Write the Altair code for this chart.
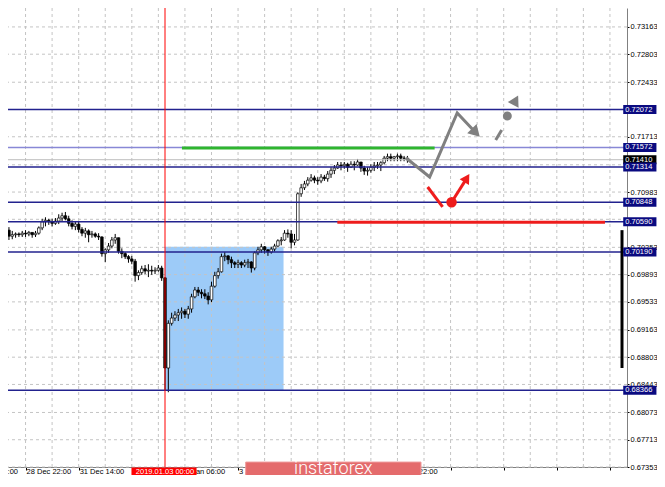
import altair as alt
import pandas as pd

# ---------------- candles (H1 bars; bar index 0 = first visible bar) ----------------
first_open = 0.7053
close = [0.7048,0.7040,0.7042,0.7043,0.7042,0.7044,0.7043,0.7045,0.7042,0.7044,
         0.7051,0.7059,0.7061,0.7059,0.7057,0.7060,0.7064,0.7067,0.7063,0.7057,
         0.7053,0.7056,0.7049,0.7044,0.7047,0.7042,0.7043,0.7040,0.7039,0.7017,
         0.7022,0.7027,0.7035,0.7038,0.7020,0.7017,0.7013,0.7010,0.7007,0.6988,
         0.6992,0.6997,0.6994,0.6995,0.6994,0.6995,0.6998,0.6985,0.6866,0.6925,
         0.6932,0.6936,0.6939,0.6941,0.6937,0.6944,0.6960,0.6969,0.6966,0.6964,
         0.6961,0.6956,0.6974,0.6988,0.6993,0.7013,0.7014,0.7009,0.7005,0.7003,
         0.7005,0.7002,0.7005,0.7006,0.6998,0.7018,0.7022,0.7026,0.7022,0.7019,
         0.7023,0.7027,0.7034,0.7035,0.7044,0.7043,0.7032,0.7035,0.7096,0.7104,
         0.7109,0.7114,0.7117,0.7114,0.7113,0.7118,0.7116,0.7122,0.7127,0.7130,
         0.7134,0.7133,0.7135,0.7131,0.7135,0.7134,0.7138,0.7130,0.7126,0.7127,
         0.7131,0.7133,0.7134,0.7137,0.7143,0.7145,0.7143,0.7145,0.7146,0.7143,
         0.7143,0.7141]
high = [0.7055,0.7052,0.7047,0.7045,0.7045,0.7047,0.7048,0.7047,0.7045,0.7047,
        0.7053,0.7063,0.7065,0.7063,0.7063,0.7064,0.7069,0.7071,0.7072,0.7067,
        0.7061,0.7060,0.7060,0.7052,0.7051,0.7049,0.7047,0.7045,0.7044,0.7040,
        0.7024,0.7031,0.7039,0.7043,0.7038,0.7024,0.7019,0.7015,0.7014,0.7010,
        0.6995,0.7001,0.7002,0.7003,0.7001,0.6999,0.7002,0.7001,0.6986,0.6929,
        0.6939,0.6941,0.6944,0.6946,0.6944,0.6948,0.6964,0.6973,0.6973,0.6970,
        0.6970,0.6966,0.6980,0.6993,0.6998,0.7017,0.7019,0.7015,0.7013,0.7007,
        0.7009,0.7007,0.7009,0.7010,0.7007,0.7020,0.7026,0.7030,0.7027,0.7023,
        0.7026,0.7030,0.7036,0.7039,0.7048,0.7049,0.7048,0.7043,0.7098,0.7109,
        0.7113,0.7118,0.7122,0.7120,0.7118,0.7122,0.7121,0.7126,0.7131,0.7134,
        0.7138,0.7138,0.7138,0.7137,0.7139,0.7139,0.7142,0.7138,0.7133,0.7131,
        0.7135,0.7138,0.7138,0.7139,0.7146,0.7149,0.7149,0.7146,0.7149,0.7149,
        0.7146,0.7146]
low = [0.7043,0.7035,0.7036,0.7038,0.7039,0.7039,0.7039,0.7040,0.7038,0.7039,
       0.7042,0.7048,0.7053,0.7055,0.7053,0.7055,0.7056,0.7060,0.7061,0.7053,
       0.7049,0.7048,0.7045,0.7040,0.7038,0.7032,0.7038,0.7038,0.7035,0.7013,
       0.7006,0.7018,0.7024,0.7030,0.7017,0.7011,0.7010,0.7005,0.7003,0.6980,
       0.6982,0.6989,0.6990,0.6986,0.6989,0.6990,0.6993,0.6981,0.6837,0.6834,
       0.6922,0.6928,0.6928,0.6931,0.6932,0.6931,0.6939,0.6958,0.6961,0.6958,
       0.6957,0.6950,0.6953,0.6972,0.6984,0.6992,0.7007,0.7003,0.6998,0.6998,
       0.6998,0.6998,0.6999,0.6998,0.6992,0.6995,0.7015,0.7018,0.7017,0.7014,
       0.7017,0.7020,0.7026,0.7028,0.7034,0.7038,0.7024,0.7028,0.7034,0.7092,
       0.7101,0.7106,0.7112,0.7110,0.7108,0.7110,0.7113,0.7112,0.7117,0.7122,
       0.7129,0.7127,0.7129,0.7125,0.7130,0.7127,0.7133,0.7125,0.7121,0.7120,
       0.7124,0.7126,0.7129,0.7126,0.7135,0.7139,0.7139,0.7139,0.7139,0.7139,
       0.7139,0.7137]

# ---------------- axes ----------------
x_domain = [2.222, 185.629]         # bar index range of the plot area
y_domain = [0.67353, 0.73413]
y_ticks = [0.73163, 0.72803, 0.72433, 0.72073, 0.71713, 0.71343, 0.70983, 0.70623,
           0.70253, 0.69893, 0.69533, 0.69163, 0.68803, 0.68443, 0.68073, 0.67713, 0.67353]
hidden_tick_labels = ["0.72073", "0.71343", "0.70623"]
tick_bars = [6, 22, 38, 54, 70, 86, 102, 118, 134, 150, 166, 182]
label_bars = [-10, 6, 22, 54, 70, 118]
label_text = ["28 Dec 06:00", "28 Dec 22:00", "31 Dec 14:00", "3 Jan 06:00",
              "3 Jan 22:00", "7 Jan 22:00"]
grid_bars = [6, 14, 22, 30, 38, 46, 54, 62, 70, 78, 86, 94, 102, 110, 118, 126, 134,
             142, 150, 158, 166, 174, 182]
x_label_price = 0.67286

# ---------------- drawn objects ----------------
level_price = [0.72072, 0.71572, 0.71314, 0.70848, 0.70590, 0.70190, 0.68366]
level_color = ["#22228e", "#8888d6", "#22228e", "#22228e", "#22228e", "#22228e", "#22228e"]
current_price = 0.71410
marker_bar = 48
marker_text = "2019.01.03 00:00"
rect_bars = [48, 83.7]
rect_prices = [0.70260, 0.68366]
green_bars = [53.1, 129.2]
green_price = 0.71565
red_bars = [99.9, 180.5]
red_price = 0.70585
grey_path_bars = [120.6, 127.7, 136.0, 141.6]
grey_path_prices = [0.71433, 0.71182, 0.72027, 0.71767]
grey_dash_bars = [147.6, 149.4]
grey_dash_prices = [0.71670, 0.71802]
grey_dot = (151.1, 0.71987)
red_line_bars = [127.1, 131.6]
red_line_prices = [0.71050, 0.70786]
red_dot = (134.3, 0.70848)
red_shaft_end = (138.9, 0.71167)
head_bars = [141.6, 153.6, 138.9]
head_prices = [0.71767, 0.72195, 0.71167]
head_angles = [136, 28, 32]
head_colors = ["#808080", "#808080", "#ee1c1c"]
head_sizes = [170, 150, 120]
thick_axis_prices = [0.6866, 0.7048]
label_box_bars = [186.0, 196.0]
label_text_bar = 186.6
marker_box_bars = [37.9, 57.5]
logo_bars = [72.3, 125.1]
logo_prices = [0.67418, 0.66983]
logo_center = (98.7, 0.67260)

# ---------------- scales / helpers ----------------
xs = alt.Scale(domain=x_domain, nice=False, zero=False)
ys = alt.Scale(domain=y_domain, nice=False, zero=False)
xax = alt.Axis(values=tick_bars, labels=False, tickSize=3, tickColor="#000000",
               domainColor="#808080", grid=False, title=None)
yexpr = "indexof(" + str(hidden_tick_labels) + ", datum.label) >= 0 ? '' : datum.label"
yax = alt.Axis(orient="right", values=y_ticks, format=".5f", labelExpr=yexpr, tickSize=2,
               tickColor="#000000", domainColor="#808080", labelFont="Liberation Sans",
               labelFontSize=7.5, labelColor="#000000", labelPadding=1, grid=False, title=None,
               labelFlush=False, labelOverlap=False, labelBaseline="middle")


def X(f):
    return alt.X(f"{f}:Q", scale=xs, axis=xax)


def Y(f):
    return alt.Y(f"{f}:Q", scale=ys, axis=yax)


FONT = "Liberation Sans"

candles = pd.DataFrame({
    "k": list(range(len(close))),
    "open": [first_open] + close[:-1],
    "close": close, "high": high, "low": low,
})

layers = []

# blue rectangle
layers.append(alt.Chart(pd.DataFrame({"k1": [rect_bars[0]], "k2": [rect_bars[1]],
                                      "p1": [rect_prices[0]], "p2": [rect_prices[1]]}))
              .mark_rect(color="#9dcbf8", clip=True)
              .encode(x=X("k1"), x2="k2", y=Y("p1"), y2="p2"))
# grid
layers.append(alt.Chart(pd.DataFrame({"k": grid_bars}))
              .mark_rule(color="#c4c4c4", strokeDash=[3, 3], strokeWidth=1)
              .encode(x=X("k")))
layers.append(alt.Chart(pd.DataFrame({"p": y_ticks}))
              .mark_rule(color="#c4c4c4", strokeDash=[3, 3], strokeWidth=1)
              .encode(y=Y("p")))
# candles
layers.append(alt.Chart(candles).mark_rule(color="#000000", strokeWidth=1, clip=True)
              .encode(x=X("k"), y=Y("low"), y2="high"))
layers.append(alt.Chart(candles).mark_bar(size=2.6, stroke="#000000", strokeWidth=0.7, clip=True)
              .encode(x=X("k"), y=Y("open"), y2="close",
                      fill=alt.condition("datum.close >= datum.open", alt.value("#ffffff"),
                                         alt.value("#000000"))))
# current price line and levels
layers.append(alt.Chart(pd.DataFrame({"p": [current_price]}))
              .mark_rule(color="#bdbdbd", strokeWidth=1).encode(y=Y("p")))
layers.append(alt.Chart(pd.DataFrame({"p": level_price, "c": level_color}))
              .mark_rule(strokeWidth=1.5)
              .encode(y=Y("p"), color=alt.Color("c:N", scale=None)))
# green and red segments
layers.append(alt.Chart(pd.DataFrame({"k1": [green_bars[0], red_bars[0]],
                                      "k2": [green_bars[1], red_bars[1]],
                                      "p": [green_price, red_price],
                                      "c": ["#2fb52f", "#ee1c1c"]}))
              .mark_rule(strokeWidth=3, strokeCap="butt")
              .encode(x=X("k1"), x2="k2", y=Y("p"), color=alt.Color("c:N", scale=None)))
# vertical marker line
layers.append(alt.Chart(pd.DataFrame({"k": [marker_bar]}))
              .mark_rule(stroke="#ff0000", color="#ff0000", strokeWidth=1, opacity=1)
              .encode(x=X("k")))
# grey forecast path
layers.append(alt.Chart(pd.DataFrame({"k": grey_path_bars, "p": grey_path_prices,
                                      "i": list(range(len(grey_path_bars)))}))
              .mark_line(color="#808080", strokeWidth=3)
              .encode(x=X("k"), y=Y("p"), order="i:O"))
# short segments (grey dash, red stroke, red shaft)
seg = pd.DataFrame({
    "k1": [grey_dash_bars[0], red_line_bars[0], red_dot[0]],
    "k2": [grey_dash_bars[1], red_line_bars[1], red_shaft_end[0]],
    "p1": [grey_dash_prices[0], red_line_prices[0], red_dot[1]],
    "p2": [grey_dash_prices[1], red_line_prices[1], red_shaft_end[1]],
    "c": ["#808080", "#ee1c1c", "#ee1c1c"],
})
layers.append(alt.Chart(seg).mark_rule(strokeWidth=3)
              .encode(x=X("k1"), x2="k2", y=Y("p1"), y2="p2",
                      color=alt.Color("c:N", scale=None)))
# dots
layers.append(alt.Chart(pd.DataFrame({"k": [grey_dot[0], red_dot[0]],
                                      "p": [grey_dot[1], red_dot[1]],
                                      "c": ["#808080", "#ee1c1c"],
                                      "s": [80, 110]}))
              .mark_point(shape="circle", filled=True, opacity=1)
              .encode(x=X("k"), y=Y("p"), color=alt.Color("c:N", scale=None),
                      size=alt.Size("s:Q", scale=None)))
# arrow heads
layers.append(alt.Chart(pd.DataFrame({"k": head_bars, "p": head_prices, "s": head_sizes,
                                      "a": head_angles, "c": head_colors}))
              .mark_point(shape="triangle-up", filled=True, opacity=1)
              .encode(x=X("k"), y=Y("p"), angle=alt.Angle("a:Q", scale=None),
                      size=alt.Size("s:Q", scale=None),
                      color=alt.Color("c:N", scale=None)))
# thick part of price axis
layers.append(alt.Chart(pd.DataFrame({"k": [x_domain[1]], "p1": [thick_axis_prices[0]],
                                      "p2": [thick_axis_prices[1]]}))
              .mark_rule(color="#000000", strokeWidth=3, strokeCap="butt")
              .encode(x=X("k"), y=Y("p1"), y2="p2"))
# price-label boxes on the right axis
box_price = [current_price] + level_price
box_color = ["#000000"] + ["#0a0a80"] * len(level_price)
boxes = pd.DataFrame({"k1": [label_box_bars[0]] * len(box_price),
                      "k2": [label_box_bars[1]] * len(box_price),
                      "kt": [label_text_bar] * len(box_price),
                      "p": box_price, "c": box_color,
                      "t": [f"{v:.5f}" for v in box_price]})
for i in range(len(boxes)):
    row = boxes.iloc[[i]]
    layers.append(alt.Chart(row).mark_rule(strokeWidth=9, strokeCap="butt")
                  .encode(x=X("k1"), x2="k2", y=Y("p"), color=alt.Color("c:N", scale=None)))
    layers.append(alt.Chart(row).mark_text(align="left", baseline="middle", color="#ffffff",
                                           font=FONT, fontSize=7.5)
                  .encode(x=X("kt"), y=Y("p"), text="t:N"))
# time labels
layers.append(alt.Chart(pd.DataFrame({"k": label_bars, "t": label_text,
                                      "p": [x_label_price] * len(label_bars)}))
              .mark_text(align="left", baseline="middle", dx=1, color="#000000",
                         font=FONT, fontSize=7.5)
              .encode(x=X("k"), y=Y("p"), text="t:N"))
# red date box on the time axis
layers.append(alt.Chart(pd.DataFrame({"k1": [marker_box_bars[0]], "k2": [marker_box_bars[1]],
                                      "p": [x_label_price]}))
              .mark_rule(color="#ff0000", strokeWidth=9, strokeCap="butt")
              .encode(x=X("k1"), x2="k2", y=Y("p")))
layers.append(alt.Chart(pd.DataFrame({"k": [marker_bar], "p": [x_label_price], "t": [marker_text]}))
              .mark_text(align="center", baseline="middle", color="#ffffff", font=FONT, fontSize=7.5)
              .encode(x=X("k"), y=Y("p"), text="t:N"))
# logo
layers.append(alt.Chart(pd.DataFrame({"k1": [logo_bars[0]], "k2": [logo_bars[1]],
                                      "p1": [logo_prices[0]], "p2": [logo_prices[1]]}))
              .mark_rect(color="#e46b6c", stroke="#ee9a9a", strokeWidth=1)
              .encode(x=X("k1"), x2="k2", y=Y("p1"), y2="p2"))
layers.append(alt.Chart(pd.DataFrame({"k": [logo_center[0]], "p": [logo_center[1]],
                                      "t": ["instaforex"]}))
              .mark_text(align="center", baseline="alphabetic", color="#ffffff", font="Roboto",
                         fontSize=18, fontWeight=300)
              .encode(x=X("k"), y=Y("p"), text="t:N"))

chart = (alt.layer(*layers)
         .properties(width=619, height=459, background="#ffffff",
                     padding={"left": 0, "top": 0, "right": 30, "bottom": 8},
                     autosize=alt.AutoSizeParams(type="none"))
         .configure_view(strokeWidth=0))

chart.save("out.html", embed_options={"renderer": "svg", "actions": False})
